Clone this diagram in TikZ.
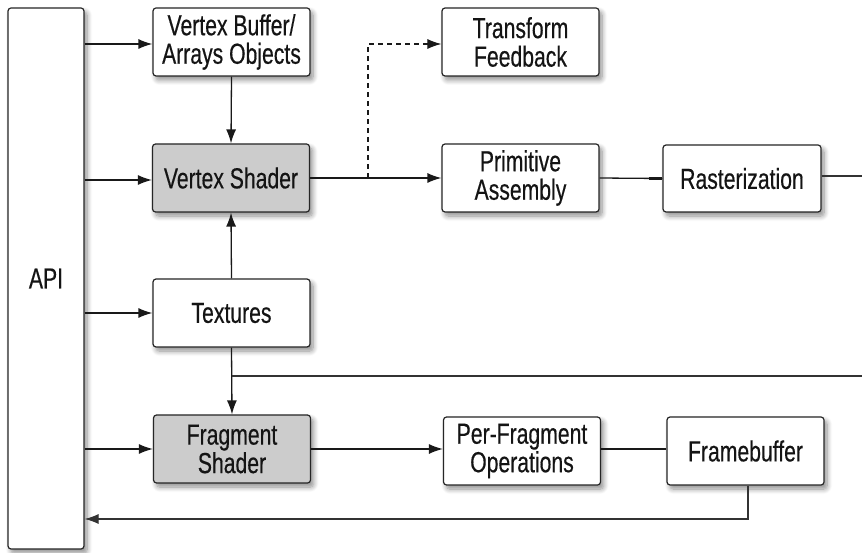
\documentclass[tikz,border=0pt]{standalone}
\usepackage{fontspec}
\setmainfont{Liberation Sans}[FakeStretch=0.73,FakeBold=0.4]
\usetikzlibrary{arrows.meta,shadows.blur}
\tikzset{
  box/.style={draw=black!85, line width=1.2pt, rounded corners=3pt, fill=white,
    minimum width=157pt, minimum height=68pt, inner sep=0pt, align=center,
    font=\fontsize{29}{28.5}\selectfont, text=black!92,
    blur shadow={shadow xshift=3pt, shadow yshift=-4pt, shadow blur steps=8, shadow opacity=45, shadow blur radius=5pt}},
  shaded/.style={box, fill=black!20},
  conn/.style={line width=1.3pt, draw=black!90},
  arr/.style={conn, -{Latex[length=14pt,width=10pt]}},
  thin/.style={line width=1.1pt, draw=black!80},
  stub/.style={line width=2.6pt, draw=black!90},
}
\begin{document}
\begin{tikzpicture}[x=1pt,y=-1pt]
\useasboundingbox (0,0) rectangle (862,553);
\node[box, minimum width=76pt, minimum height=541pt] (api) at (46,278.5) {API};
\node[box] (vbo) at (231.5,42) {Vertex Buffer/\\Arrays Objects};
\node[shaded] (vs) at (231,178) {Vertex Shader};
\node[box] (tf) at (520.5,42) {Transform\\Feedback};
\node[box] (pa) at (520.5,178) {Primitive\\Assembly};
\node[box, minimum width=158pt, minimum height=67pt] (rast) at (742,178.5) {Rasterization};
\node[box] (tex) at (231.5,313) {Textures};
\node[shaded] (fs) at (232,449) {Fragment\\Shader};
\node[box] (pfo) at (522,451) {Per-Fragment\\Operations};
\node[box] (fb) at (745.5,451) {Framebuffer};
\coordinate (r1) at (862,176);
\coordinate (r2) at (862,376);
\coordinate (split) at (231.5,376);
\coordinate (tap) at (368,178);
\coordinate (fbturn) at (748,519);
\draw[arr] (api.east |- 0,44) -- (vbo.west |- 0,44);
\draw[arr] (api.east |- 0,180) -- (vs.west |- 0,180);
\draw[arr] (api.east |- tex.west) -- (tex.west);
\draw[arr] (api.east |- fs.west) -- (fs.west);
\draw[arr] (vbo.south) -- (vs.north);
\draw[arr] (tex.north) -- (vs.south);
\draw[arr] (tex.south) -- (fs.north);
\draw[thin] (split) -- (r2);
\draw[arr] (vs.east) -- (pa.west);
\draw[arr, dashed, line width=1.1pt, dash pattern=on 5pt off 4pt] (tap) -- (tap |- 0,44) -- (tf.west |- 0,44);
\draw[conn] (pa.east) -- (rast.west);
\draw[stub] ([xshift=-13pt]rast.west) -- (rast.west);
\draw[thin] (rast.east |- r1) -- (r1);
\draw[arr] (fs.east) -- (pfo.west |- fs.east);
\draw[conn] (pfo.east |- 0,449) -- (fb.west |- 0,449);
\draw[stub] ([xshift=-13pt]fb.west |- 0,449) -- (fb.west |- 0,449);
\draw[arr, thin] (fb.south -| fbturn) -- (fbturn) -- (api.east |- fbturn);
\end{tikzpicture}
\end{document}
